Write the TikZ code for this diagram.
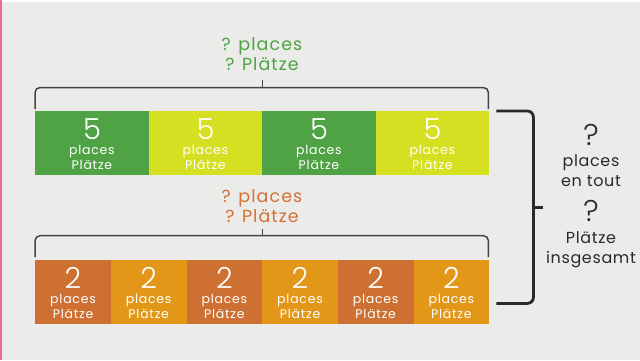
\documentclass[tikz,border=0pt]{standalone}
\usepackage{fontspec}
\setmainfont{Poppins}
\usetikzlibrary{calc}
\definecolor{bg}{HTML}{EBEBE9}
\definecolor{gdark}{HTML}{4FA345}
\definecolor{glime}{HTML}{D6E022}
\definecolor{odark}{HTML}{CF7033}
\definecolor{olight}{HTML}{E29718}
\definecolor{otext}{HTML}{D27236}
\definecolor{brk}{HTML}{444444}
\definecolor{ink}{HTML}{2A2A2A}
\definecolor{pinkedge}{HTML}{F0649E}
\newfontfamily\spaced[LetterSpace=6]{Poppins}
\newfontfamily\spacedr[LetterSpace=4]{Poppins}
\newfontfamily\lightface{Poppins Light}
\newcommand{\mkbox}[6]{% name, x, y, width, color, number
  \node[cell, fill=#5, minimum width=#4pt] (#1) at (#2,#3) {};
  \node[numtxt] (#1n) at ($(#1.north)+(0,28)$) {#6};
  \node[smalltxt] (#1p) at ($(#1.north)+(0,43)$) {places};
  \node[smalltxt] (#1q) at ($(#1.north)+(0,58.5)$) {Plätze};
}
\begin{document}
\begin{tikzpicture}[x=1pt,y=-1pt,
  cell/.style={rectangle, anchor=north west, inner sep=0pt, minimum height=64pt, draw=none},
  numtxt/.style={anchor=base, inner sep=0pt, text=white, text height=19pt, text depth=0pt, font=\lightface\fontsize{29}{29}\selectfont},
  smalltxt/.style={anchor=base, inner sep=0pt, text=white, text height=9pt, text depth=2.5pt, font=\spaced\fontsize{12.5}{13}\selectfont},
  lbl/.style={anchor=base, inner sep=0pt, font=\spaced\fontsize{17.5}{18}\selectfont},
  rtxt/.style={anchor=base, inner sep=0pt, text=ink, font=\spacedr\fontsize{16}{17}\selectfont},
  qmark/.style={anchor=base, inner sep=0pt, text=ink, font=\lightface\fontsize{30}{30}\selectfont},
  brace/.style={draw=brk, line width=1.5pt, rounded corners=5pt},
  bigbrace/.style={draw=ink, line width=2.8pt, rounded corners=6pt}
]
\useasboundingbox (0,0) rectangle (640,360);
\fill[bg] (0,0) rectangle (640,360);
\fill[white] (0,0) rectangle (640,2);
\fill[white] (0,0) rectangle (2.3,360);
\fill[pinkedge] (0,0) rectangle (1.7,360);

% top row
\mkbox{t1}{35}{111}{113.5}{gdark}{5}
\mkbox{t2}{148.5}{111}{113.5}{glime}{5}
\mkbox{t3}{262}{111}{113.5}{gdark}{5}
\mkbox{t4}{375.5}{111}{113.5}{glime}{5}

% bottom row
\mkbox{b1}{35}{260}{75.67}{odark}{2}
\mkbox{b2}{110.67}{260}{75.67}{olight}{2}
\mkbox{b3}{186.33}{260}{75.67}{odark}{2}
\mkbox{b4}{262}{260}{75.67}{olight}{2}
\mkbox{b5}{337.67}{260}{75.67}{odark}{2}
\mkbox{b6}{413.33}{260}{75.67}{olight}{2}

% top bracket
\coordinate (tl) at ($(t1.north west)+(0,-2)$);
\coordinate (tr) at ($(t4.north east)+(-1,-2)$);
\draw[brace] (tl) -- ($(tl)+(0,-21.5)$) -- ($(tr)+(0,-21.5)$) -- (tr);
\coordinate (tm) at ($(t2.north east)+(0,-23.5)$);
\draw[draw=brk, line width=1.5pt] (tm) -- ++(0,-8);
\node[lbl, text=gdark] (tlab1) at (262,50) {? places};
\node[lbl, text=gdark] (tlab2) at (262,70) {? Plätze};

% bottom bracket
\coordinate (bl) at ($(b1.north west)+(0,-3)$);
\coordinate (br) at ($(b6.north east)+(-1,-3)$);
\draw[brace] (bl) -- ($(bl)+(0,-21.3)$) -- ($(br)+(0,-21.3)$) -- (br);
\coordinate (bm) at ($(b3.north east)+(0,-24.3)$);
\draw[draw=brk, line width=1.5pt] (bm) -- ++(0,-7);
\node[lbl, text=otext] (blab1) at (262,202.5) {? places};
\node[lbl, text=otext] (blab2) at (262,222.3) {? Plätze};

% big right bracket
\coordinate (rt) at ($(t4.north east)+(7,0)$);
\coordinate (rb) at ($(b6.south east)+(7,-21)$);
\draw[bigbrace] (rt) -- ($(rt)+(37,0)$) -- ($(rb)+(37,0)$) -- (rb);
\coordinate (rm) at ($(rt)!0.5!(rb)+(37,0)$);
\draw[draw=ink, line width=2.8pt] (rm) -- ++(10,0);

% right texts
\node[qmark] (q1) at (591,145) {?};
\node[rtxt] (r1) at (591,166.5) {places};
\node[rtxt] (r2) at (591,186) {en tout};
\node[qmark] (q2) at (591,221) {?};
\node[rtxt] (r3) at (591,243) {Plätze};
\node[rtxt] (r4) at (591,263) {insgesamt};
\end{tikzpicture}
\end{document}
